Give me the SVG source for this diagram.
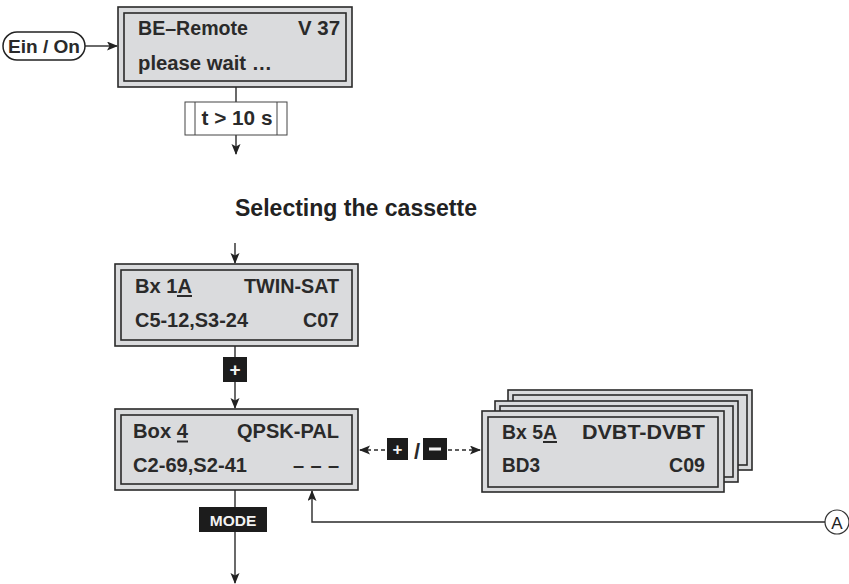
<svg xmlns="http://www.w3.org/2000/svg" width="849" height="584" viewBox="0 0 849 584">
<defs>
<marker id="ah" markerWidth="12" markerHeight="10" refX="10" refY="4.5" orient="auto" markerUnits="userSpaceOnUse">
<path d="M0,0 L11,4.5 L0,9 L2.5,4.5 z" fill="#222"/>
</marker>
<marker id="ahs" markerWidth="12" markerHeight="10" refX="10" refY="4.5" orient="auto-start-reverse" markerUnits="userSpaceOnUse">
<path d="M0,0 L11,4.5 L0,9 L2.5,4.5 z" fill="#222"/>
</marker>
<style>
.box{fill:#dadbdd;stroke:#2a2a2a;stroke-width:1.6}
.t{font-family:"Liberation Sans",Arial,sans-serif;font-weight:bold;font-size:20px;fill:#2a2a2a}
.ln{fill:none;stroke:#2a2a2a;stroke-width:1.4}
.dash{fill:none;stroke:#2a2a2a;stroke-width:1.3;stroke-dasharray:4 3}
.key{fill:#1c1c1c}
.kt{font-family:"Liberation Sans",Arial,sans-serif;font-weight:bold;fill:#f2f2f2}
.ul{stroke:#2a2a2a;stroke-width:2}
</style>
</defs>
<rect width="849" height="584" fill="#fff"/>

<g id="connectors">
<line class="ln" x1="85" y1="46" x2="117" y2="46" marker-end="url(#ah)"/>
<line class="ln" x1="236" y1="87" x2="236" y2="102"/>
<line class="ln" x1="236" y1="135" x2="236" y2="154" marker-end="url(#ah)"/>
<line class="ln" x1="235" y1="243" x2="235" y2="263" marker-end="url(#ah)"/>
<line class="ln" x1="235" y1="346" x2="235" y2="357"/>
<line class="ln" x1="235" y1="382" x2="235" y2="408" marker-end="url(#ah)"/>
<line class="ln" x1="235" y1="490" x2="235" y2="507"/>
<line class="ln" x1="235" y1="532" x2="235" y2="583" marker-end="url(#ah)"/>
<path class="ln" d="M825,522 H312 V491" marker-end="url(#ah)"/>
<line class="dash" x1="360" y1="450" x2="386" y2="450" marker-start="url(#ahs)"/>
<line class="dash" x1="448" y1="450" x2="480" y2="450" marker-end="url(#ah)"/>
</g>

<g id="power">
<rect x="3" y="32" width="82" height="28" rx="14" fill="#fff" stroke="#222" stroke-width="1.5"/>
<text class="t" x="44" y="52.5" font-size="18" style="font-size:18px" text-anchor="middle" textLength="72" lengthAdjust="spacingAndGlyphs">Ein / On</text>
</g>

<g id="box-remote">
<rect class="box" x="118" y="7" width="234" height="80"/>
<rect class="box" x="124" y="13" width="222" height="68"/>
<text class="t" x="138" y="35" textLength="110" lengthAdjust="spacingAndGlyphs">BE–Remote</text>
<text class="t" x="340" y="35" text-anchor="end" textLength="42" lengthAdjust="spacingAndGlyphs">V 37</text>
<text class="t" x="138" y="70" textLength="134" lengthAdjust="spacingAndGlyphs">please wait …</text>
</g>

<g id="timer">
<rect x="185" y="102" width="102" height="33" fill="#fff" stroke="#444" stroke-width="1"/>
<line x1="195" y1="102" x2="195" y2="135" stroke="#444" stroke-width="1"/>
<line x1="277" y1="102" x2="277" y2="135" stroke="#444" stroke-width="1"/>
<text class="t" x="237" y="125" text-anchor="middle" textLength="71" lengthAdjust="spacingAndGlyphs">t &gt; 10 s</text>
</g>

<g id="title">
<text x="235" y="216" font-family="'Liberation Sans',Arial,sans-serif" font-weight="bold" font-size="23" fill="#222" textLength="242" lengthAdjust="spacingAndGlyphs">Selecting the cassette</text>
</g>

<g id="box-1A">
<rect class="box" x="115" y="264" width="243" height="82"/>
<rect class="box" x="121" y="270" width="231" height="70"/>
<text class="t" x="135" y="293" textLength="57" lengthAdjust="spacingAndGlyphs">Bx 1A</text>
<line class="ul" x1="177" y1="296" x2="192" y2="296"/>
<text class="t" x="339" y="293" text-anchor="end" textLength="95" lengthAdjust="spacingAndGlyphs">TWIN-SAT</text>
<text class="t" x="135" y="327" textLength="113" lengthAdjust="spacingAndGlyphs">C5-12,S3-24</text>
<text class="t" x="339" y="327" text-anchor="end" textLength="36" lengthAdjust="spacingAndGlyphs">C07</text>
</g>

<g id="key-plus">
<rect class="key" x="223" y="357" width="24" height="25"/>
<text class="kt" x="235" y="376" font-size="19" text-anchor="middle">+</text>
</g>

<g id="box-4">
<rect class="box" x="115" y="409" width="243" height="81"/>
<rect class="box" x="121" y="415" width="231" height="69"/>
<text class="t" x="133" y="438" textLength="55" lengthAdjust="spacingAndGlyphs">Box 4</text>
<line class="ul" x1="177" y1="441.5" x2="188" y2="441.5"/>
<text class="t" x="339" y="438" text-anchor="end" textLength="102" lengthAdjust="spacingAndGlyphs">QPSK-PAL</text>
<text class="t" x="133" y="472" textLength="114" lengthAdjust="spacingAndGlyphs">C2-69,S2-41</text>
<text class="t" x="339" y="472" text-anchor="end" textLength="46" lengthAdjust="spacing">– – –</text>
</g>

<g id="key-mode">
<rect class="key" x="199" y="507" width="68" height="25"/>
<text class="kt" x="233" y="525.5" font-size="15.5" text-anchor="middle" fill="#e6e6e6">MODE</text>
</g>

<g id="keys-plusminus">
<rect class="key" x="387" y="438" width="21" height="22"/>
<text class="kt" x="397.5" y="455" font-size="17" text-anchor="middle">+</text>
<text class="t" x="417" y="459" style="font-size:22px" text-anchor="middle">/</text>
<rect class="key" x="423" y="438" width="24" height="22"/>
<rect x="429" y="447.5" width="12" height="3" fill="#f2f2f2"/>
</g>

<g id="box-5A-stack">
<rect class="box" x="508" y="390" width="244" height="80"/>
<rect class="box" x="513" y="395" width="234" height="70"/>
<rect class="box" x="495" y="401" width="243" height="81"/>
<rect class="box" x="500" y="406" width="233" height="71"/>
<rect class="box" x="482" y="411" width="242" height="81"/>
<rect class="box" x="488" y="417" width="230" height="70"/>
<text class="t" x="502" y="439" textLength="55" lengthAdjust="spacingAndGlyphs">Bx 5A</text>
<line class="ul" x1="543" y1="442" x2="557" y2="442"/>
<text class="t" x="705" y="439" text-anchor="end" textLength="123" lengthAdjust="spacingAndGlyphs">DVBT-DVBT</text>
<text class="t" x="502" y="472" textLength="38" lengthAdjust="spacingAndGlyphs">BD3</text>
<text class="t" x="705" y="472" text-anchor="end" textLength="36" lengthAdjust="spacingAndGlyphs">C09</text>
</g>

<g id="ref-A">
<circle cx="837" cy="522" r="12" fill="#fff" stroke="#333" stroke-width="1.2"/>
<text x="837" y="528.5" font-family="'Liberation Sans',Arial,sans-serif" font-size="17" text-anchor="middle" fill="#222">A</text>
</g>
</svg>
